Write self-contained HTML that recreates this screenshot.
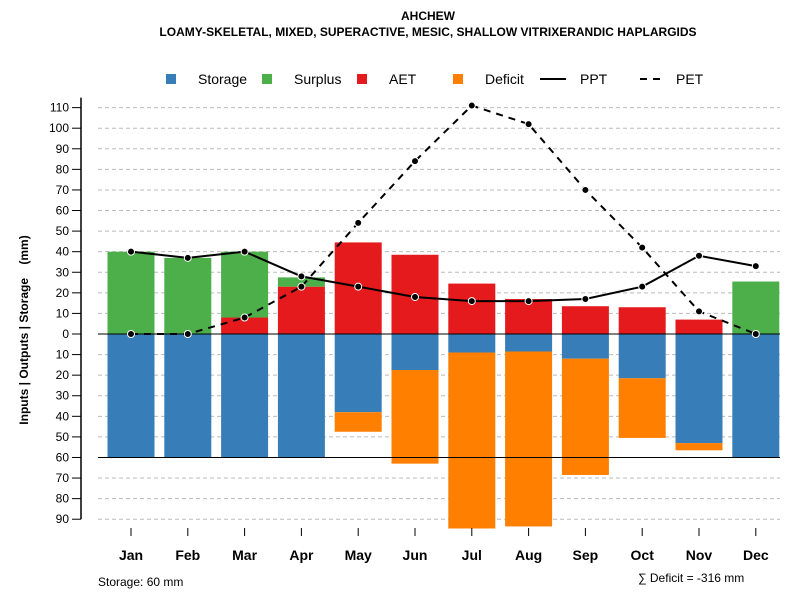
<!DOCTYPE html>
<html><head><meta charset="utf-8"><style>
body{margin:0;background:#fff;}
svg text{font-family:"Liberation Sans",sans-serif;}
</style></head><body>
<svg id="chart" width="800" height="600" xmlns="http://www.w3.org/2000/svg">
<text x="428" y="20" text-anchor="middle" font-size="12" font-weight="bold">AHCHEW</text>
<text x="428" y="36" text-anchor="middle" font-size="12" font-weight="bold">LOAMY-SKELETAL, MIXED, SUPERACTIVE, MESIC, SHALLOW VITRIXERANDIC HAPLARGIDS</text>
<g id="grid"></g><g id="bars"></g><g id="lines"></g><g id="axes"></g>
<g>
<rect x="166" y="74" width="10" height="10" fill="#377EB8"/>
<text x="198" y="84" font-size="14">Storage</text>
<rect x="262" y="74" width="10" height="10" fill="#4DAF4A"/>
<text x="294" y="84" font-size="14">Surplus</text>
<rect x="357" y="74" width="10" height="10" fill="#E41A1C"/>
<text x="389" y="84" font-size="14">AET</text>
<rect x="453" y="74" width="10" height="10" fill="#FF7F00"/>
<text x="485" y="84" font-size="14">Deficit</text>
<line x1="540" y1="79" x2="566" y2="79" stroke="#000" stroke-width="2"/>
<text x="580" y="84" font-size="14">PPT</text>
<line x1="640" y1="79" x2="666" y2="79" stroke="#000" stroke-width="2" stroke-dasharray="7,6"/>
<text x="676" y="84" font-size="14">PET</text>
</g>
<text transform="translate(28,330) rotate(-90)" text-anchor="middle" font-size="12" font-weight="bold">Inputs | Outputs | Storage&#160;&#160;&#160;&#160;(mm)</text>
<text x="98" y="586" font-size="12">Storage: 60 mm</text>
<text x="638" y="582" font-size="12">∑ Deficit = -316 mm</text>
</svg>
<script>
const months=["Jan","Feb","Mar","Apr","May","Jun","Jul","Aug","Sep","Oct","Nov","Dec"];
const storage=[60,60,60,60,38,17.5,9,8.5,12,21.5,53,60];
const deficit=[0,0,0,0,9.5,45.5,85.5,85,56.5,29,3.5,0];
const aet=[0,0,8,23,44.5,38.5,24.5,17,13.5,13,7,0];
const surplus=[40,37,32,4.5,0,0,0,0,0,0,0,25.5];
const ppt=[40,37,40,28,23,18,16,16,17,23,38,33];
const pet=[0,0,8,23,54,84,111,102,70,42,11,0];
const posTicks=[0,10,20,30,40,50,60,70,80,90,100,110];
const negTicks=[10,20,30,40,50,60,70,80,90];
const NS="http://www.w3.org/2000/svg";
const y=v=>334-v*2.058;
const x=i=>131+i*56.8;
const bw=47;
function mk(tag,attrs,parent,txt){const e=document.createElementNS(NS,tag);for(const k in attrs)e.setAttribute(k,attrs[k]);if(txt!==undefined)e.textContent=txt;document.getElementById(parent).appendChild(e);return e;}
posTicks.concat(negTicks.map(v=>-v)).forEach(v=>{
  if(v!==0){const g=mk("line",{x1:98,x2:780,y1:y(v),y2:y(v),stroke:"#bbb","stroke-dasharray":"4,3"},"grid");
  
  }
  const t=mk("line",{x1:72,x2:81,y1:y(v),y2:y(v),stroke:"#000"},"axes");
  
  
  const l=mk("text",{x:69,y:y(v)+4,"text-anchor":"end","font-size":"12"},"axes",String(Math.abs(v)));
  
  
});
const ax=mk("line",{x1:81,x2:81,y1:y(110)-10,y2:y(-90),stroke:"#000","stroke-width":1.5},"axes");


months.forEach((m,i)=>{
  const cx=x(i),x0=cx-bw/2;
  const s=mk("rect",{x:x0,y:y(0),width:bw,height:y(-storage[i])-y(0),fill:"#377EB8"},"bars");
  
  
  if(deficit[i]>0){const d=mk("rect",{x:x0,y:y(-storage[i]),width:bw,height:y(-storage[i]-deficit[i])-y(-storage[i]),fill:"#FF7F00"},"bars");
  
  }
  if(aet[i]>0){const a=mk("rect",{x:x0,y:y(aet[i]),width:bw,height:y(0)-y(aet[i]),fill:"#E41A1C"},"bars");
  
  }
  if(surplus[i]>0){const u=mk("rect",{x:x0,y:y(aet[i]+surplus[i]),width:bw,height:y(aet[i])-y(aet[i]+surplus[i]),fill:"#4DAF4A"},"bars");
  
  }
  const t=mk("line",{x1:cx,x2:cx,y1:528,y2:536,stroke:"#000"},"axes");
  
  
  const l=mk("text",{x:cx,y:560,"text-anchor":"middle","font-size":"14","font-weight":"bold"},"axes",m);
  
  
});
const z=mk("line",{x1:98,x2:780,y1:y(0),y2:y(0),stroke:"#000"},"bars");


const sl=mk("line",{x1:98,x2:780,y1:y(-60),y2:y(-60),stroke:"#000"},"bars");


[[ppt,"ppt",""],[pet,"pet","7,6"]].forEach(([arr,nm,da])=>{
  const p=mk("polyline",{points:arr.map((v,i)=>x(i)+","+y(v)).join(" "),fill:"none",stroke:"#000","stroke-width":2,"stroke-dasharray":da},"lines");
  
  
  arr.forEach((v,i)=>{const c=mk("circle",{cx:x(i),cy:y(v),r:3.5,fill:"#000",stroke:"#fff","stroke-width":1},"lines");
  
  });
});
</script>
</body></html>
